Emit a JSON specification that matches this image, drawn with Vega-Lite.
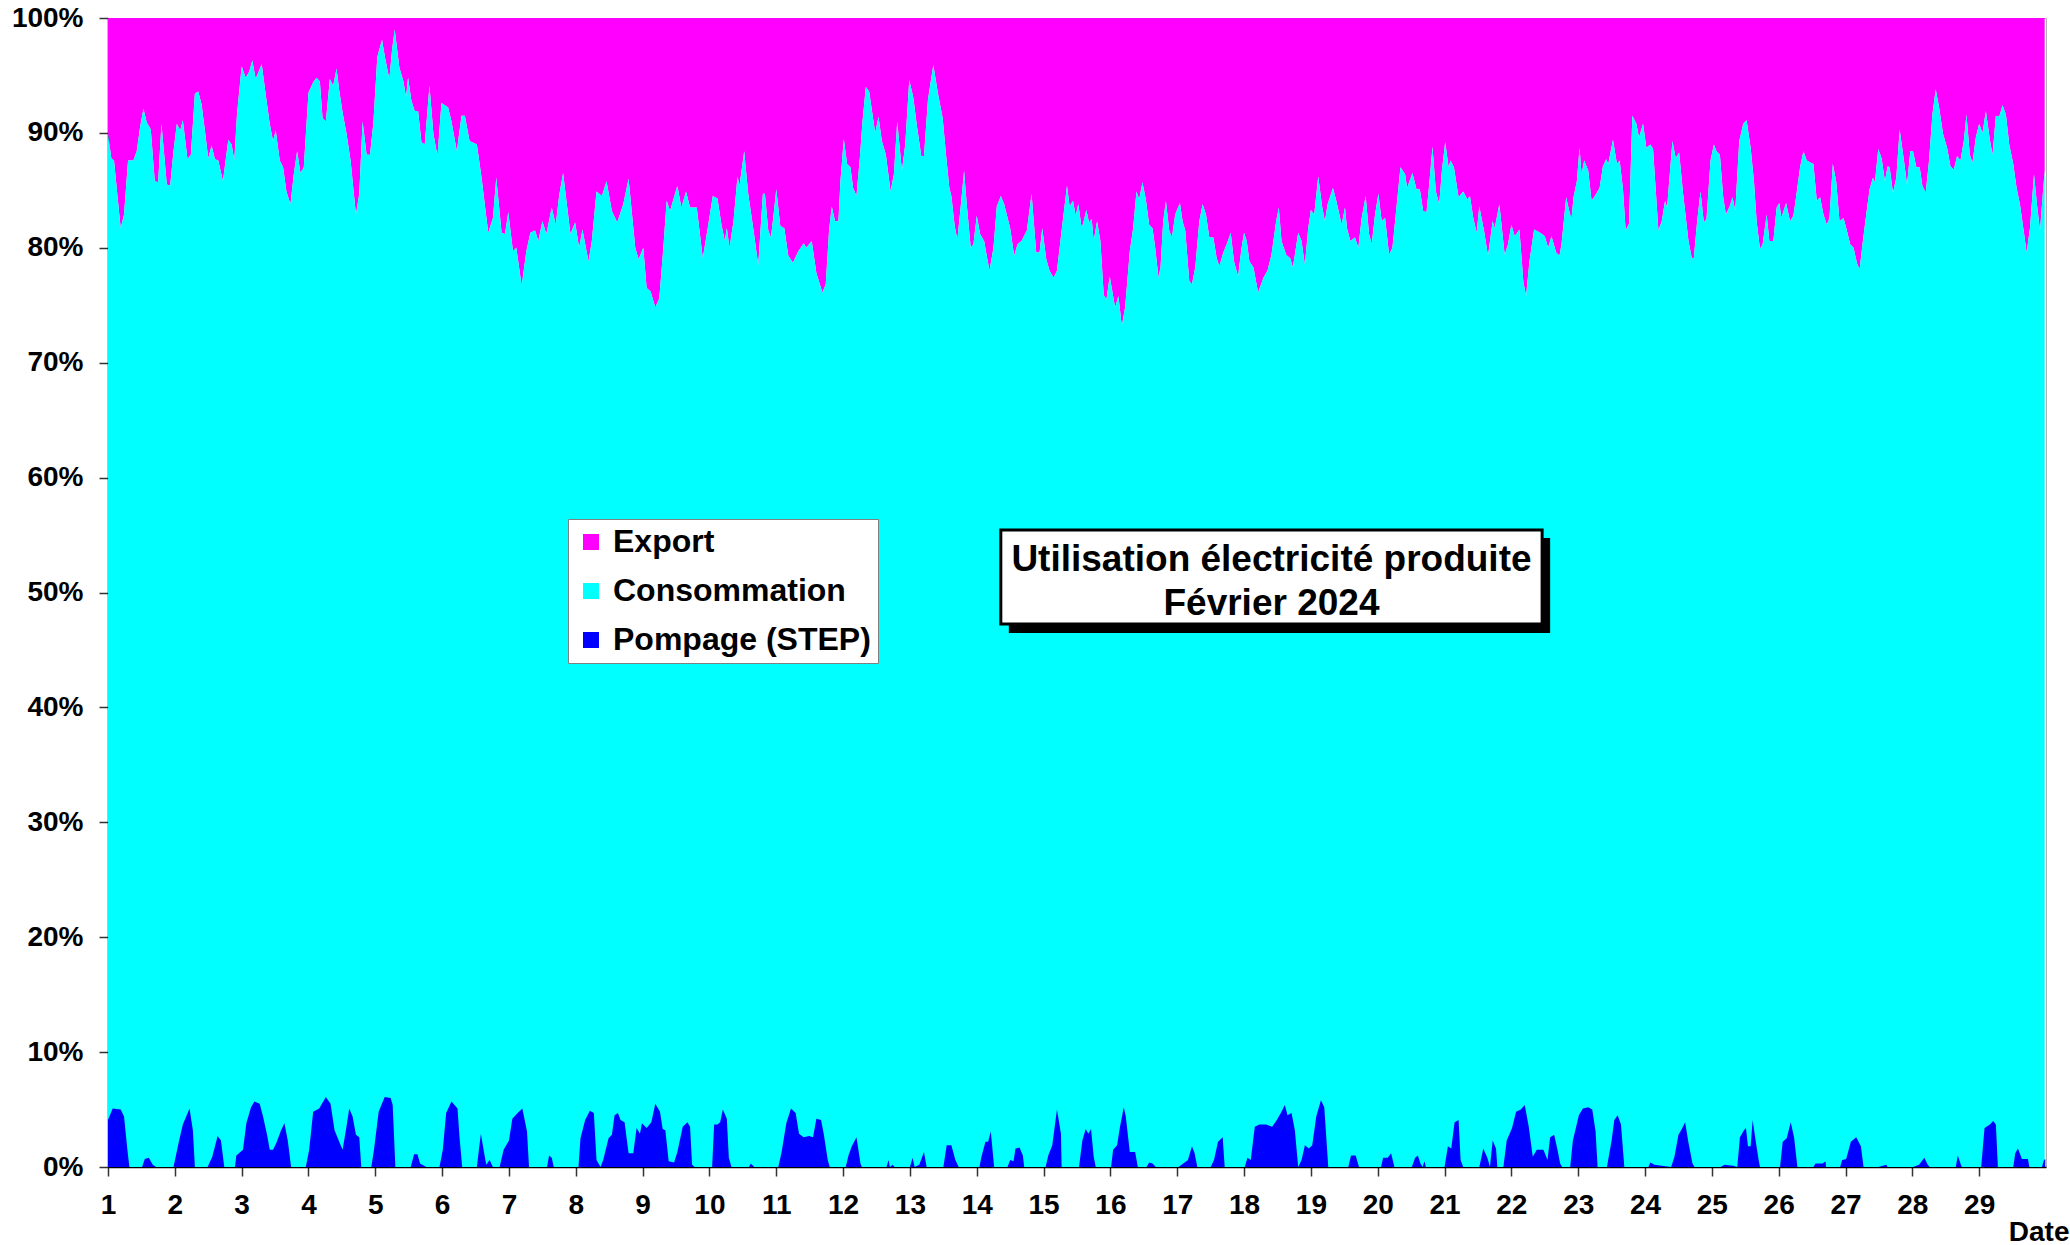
{
  "$schema": "https://vega.github.io/schema/vega-lite/v6.json",
  "width": 1938,
  "height": 1149,
  "autosize": {"type": "none"},
  "padding": {"left": 108, "top": 18, "right": 24, "bottom": 78},
  "background": "white",
  "config": {
    "view": {"stroke": "#b0b0b0", "strokeWidth": 1},
    "font": "Liberation Sans",
    "axis": {
      "labelFont": "Liberation Sans",
      "labelFontWeight": "bold",
      "labelFontSize": 28,
      "labelColor": "black",
      "domainColor": "black",
      "domainWidth": 1.5,
      "tickColor": "#333333",
      "tickSize": 9,
      "tickWidth": 1.5,
      "grid": false
    }
  },
  "datasets": {
    "cumul": [
      {"jour":1.00,"part":89.9},{"jour":1.05,"part":87.8},{"jour":1.09,"part":87.6},{"jour":1.13,"part":85.2},{"jour":1.19,"part":81.7},{"jour":1.24,"part":82.9},{"jour":1.30,"part":87.6},{"jour":1.38,"part":87.6},{"jour":1.43,"part":88.4},{"jour":1.48,"part":90.5},{"jour":1.53,"part":92.1},{"jour":1.58,"part":90.9},{"jour":1.64,"part":90.3},{"jour":1.70,"part":85.8},{"jour":1.75,"part":85.7},{"jour":1.80,"part":90.8},{"jour":1.88,"part":85.5},{"jour":1.93,"part":85.4},{"jour":1.98,"part":88.4},
      {"jour":2.03,"part":90.8},{"jour":2.08,"part":90.2},{"jour":2.12,"part":91.1},{"jour":2.19,"part":87.7},{"jour":2.24,"part":88.1},{"jour":2.30,"part":93.4},{"jour":2.35,"part":93.6},{"jour":2.40,"part":92.5},{"jour":2.45,"part":90.2},{"jour":2.50,"part":87.8},{"jour":2.55,"part":88.9},{"jour":2.60,"part":87.7},{"jour":2.65,"part":87.6},{"jour":2.72,"part":85.8},{"jour":2.80,"part":89.4},{"jour":2.85,"part":89.0},{"jour":2.89,"part":87.6},{"jour":2.93,"part":91.6},
      {"jour":3.00,"part":95.8},{"jour":3.06,"part":94.8},{"jour":3.11,"part":95.3},{"jour":3.16,"part":96.3},{"jour":3.21,"part":94.7},{"jour":3.30,"part":96.0},{"jour":3.37,"part":92.9},{"jour":3.42,"part":90.8},{"jour":3.47,"part":89.3},{"jour":3.51,"part":90.2},{"jour":3.57,"part":87.6},{"jour":3.62,"part":87.0},{"jour":3.67,"part":84.9},{"jour":3.73,"part":83.8},{"jour":3.78,"part":86.4},{"jour":3.83,"part":88.4},{"jour":3.88,"part":86.5},{"jour":3.93,"part":87.0},
      {"jour":4.00,"part":93.5},{"jour":4.07,"part":94.4},{"jour":4.12,"part":94.8},{"jour":4.17,"part":94.5},{"jour":4.21,"part":91.3},{"jour":4.26,"part":91.0},{"jour":4.32,"part":94.7},{"jour":4.37,"part":94.1},{"jour":4.42,"part":95.6},{"jour":4.46,"part":93.7},{"jour":4.51,"part":91.8},{"jour":4.57,"part":89.9},{"jour":4.63,"part":87.6},{"jour":4.71,"part":82.9},{"jour":4.76,"part":84.7},{"jour":4.81,"part":91.0},{"jour":4.87,"part":88.1},{"jour":4.92,"part":88.1},{"jour":4.97,"part":90.8},
      {"jour":5.03,"part":96.6},{"jour":5.10,"part":98.1},{"jour":5.15,"part":96.4},{"jour":5.21,"part":94.7},{"jour":5.25,"part":97.2},{"jour":5.29,"part":99.0},{"jour":5.36,"part":95.7},{"jour":5.42,"part":94.5},{"jour":5.46,"part":93.1},{"jour":5.49,"part":94.8},{"jour":5.54,"part":92.8},{"jour":5.59,"part":91.9},{"jour":5.64,"part":91.9},{"jour":5.69,"part":89.2},{"jour":5.74,"part":89.0},{"jour":5.81,"part":94.1},{"jour":5.87,"part":89.9},{"jour":5.93,"part":88.0},{"jour":5.99,"part":92.6},
      {"jour":6.09,"part":92.2},{"jour":6.14,"part":91.0},{"jour":6.22,"part":88.4},{"jour":6.29,"part":91.5},{"jour":6.34,"part":91.5},{"jour":6.41,"part":89.3},{"jour":6.52,"part":89.0},{"jour":6.59,"part":86.1},{"jour":6.69,"part":81.3},{"jour":6.76,"part":82.6},{"jour":6.81,"part":86.1},{"jour":6.89,"part":81.3},{"jour":6.94,"part":81.2},{"jour":6.99,"part":83.1},
      {"jour":7.06,"part":79.7},{"jour":7.11,"part":80.0},{"jour":7.19,"part":76.7},{"jour":7.26,"part":79.7},{"jour":7.32,"part":81.3},{"jour":7.39,"part":81.5},{"jour":7.44,"part":80.6},{"jour":7.50,"part":82.3},{"jour":7.56,"part":81.2},{"jour":7.64,"part":83.5},{"jour":7.70,"part":82.0},{"jour":7.75,"part":84.5},{"jour":7.81,"part":86.5},{"jour":7.86,"part":84.1},{"jour":7.92,"part":81.2},{"jour":7.99,"part":82.2},
      {"jour":8.05,"part":80.0},{"jour":8.10,"part":81.6},{"jour":8.19,"part":78.8},{"jour":8.24,"part":80.6},{"jour":8.31,"part":84.9},{"jour":8.39,"part":84.5},{"jour":8.46,"part":85.8},{"jour":8.54,"part":83.2},{"jour":8.62,"part":82.2},{"jour":8.71,"part":83.8},{"jour":8.79,"part":86.0},{"jour":8.89,"part":80.0},{"jour":8.94,"part":79.0},
      {"jour":9.01,"part":80.0},{"jour":9.06,"part":76.5},{"jour":9.12,"part":76.2},{"jour":9.19,"part":74.8},{"jour":9.25,"part":75.6},{"jour":9.31,"part":80.0},{"jour":9.36,"part":84.1},{"jour":9.41,"part":83.2},{"jour":9.52,"part":85.4},{"jour":9.58,"part":83.5},{"jour":9.65,"part":84.9},{"jour":9.71,"part":83.5},{"jour":9.81,"part":83.5},{"jour":9.90,"part":79.1},{"jour":9.96,"part":81.2},
      {"jour":10.05,"part":84.5},{"jour":10.12,"part":84.3},{"jour":10.18,"part":82.0},{"jour":10.23,"part":80.6},{"jour":10.26,"part":81.7},{"jour":10.30,"part":80.0},{"jour":10.36,"part":82.3},{"jour":10.42,"part":86.2},{"jour":10.45,"part":85.4},{"jour":10.52,"part":88.4},{"jour":10.58,"part":84.7},{"jour":10.66,"part":81.5},{"jour":10.73,"part":78.5},{"jour":10.80,"part":84.7},{"jour":10.83,"part":84.7},{"jour":10.88,"part":81.5},{"jour":10.92,"part":80.9},{"jour":10.96,"part":82.9},
      {"jour":11.00,"part":85.1},{"jour":11.06,"part":81.9},{"jour":11.12,"part":81.7},{"jour":11.18,"part":79.3},{"jour":11.25,"part":78.7},{"jour":11.33,"part":79.7},{"jour":11.41,"part":80.4},{"jour":11.45,"part":80.0},{"jour":11.53,"part":80.6},{"jour":11.60,"part":77.8},{"jour":11.69,"part":76.1},{"jour":11.74,"part":76.8},{"jour":11.79,"part":81.5},{"jour":11.83,"part":83.6},{"jour":11.88,"part":82.3},{"jour":11.93,"part":82.3},{"jour":11.96,"part":85.8},
      {"jour":12.01,"part":89.5},{"jour":12.06,"part":87.3},{"jour":12.11,"part":87.0},{"jour":12.15,"part":85.2},{"jour":12.20,"part":84.5},{"jour":12.25,"part":87.8},{"jour":12.29,"part":91.0},{"jour":12.34,"part":94.0},{"jour":12.39,"part":93.6},{"jour":12.44,"part":91.6},{"jour":12.48,"part":90.0},{"jour":12.53,"part":91.4},{"jour":12.58,"part":89.3},{"jour":12.64,"part":88.1},{"jour":12.71,"part":84.9},{"jour":12.76,"part":86.4},{"jour":12.81,"part":91.0},{"jour":12.88,"part":86.7},{"jour":12.93,"part":89.0},{"jour":12.99,"part":94.6},
      {"jour":13.05,"part":93.1},{"jour":13.10,"part":90.8},{"jour":13.17,"part":88.0},{"jour":13.21,"part":88.0},{"jour":13.27,"part":92.9},{"jour":13.35,"part":95.9},{"jour":13.42,"part":93.4},{"jour":13.49,"part":91.3},{"jour":13.54,"part":88.1},{"jour":13.59,"part":85.2},{"jour":13.62,"part":84.5},{"jour":13.67,"part":81.9},{"jour":13.71,"part":80.7},{"jour":13.77,"part":84.2},{"jour":13.81,"part":86.7},{"jour":13.85,"part":83.8},{"jour":13.91,"part":80.0},{"jour":13.95,"part":80.3},
      {"jour":14.00,"part":82.8},{"jour":14.05,"part":81.2},{"jour":14.11,"part":80.6},{"jour":14.19,"part":78.0},{"jour":14.25,"part":80.0},{"jour":14.30,"part":83.6},{"jour":14.36,"part":84.5},{"jour":14.41,"part":83.8},{"jour":14.50,"part":81.7},{"jour":14.56,"part":79.3},{"jour":14.61,"part":80.3},{"jour":14.67,"part":80.6},{"jour":14.75,"part":81.5},{"jour":14.82,"part":84.7},{"jour":14.89,"part":79.6},{"jour":14.94,"part":79.6},{"jour":14.98,"part":81.7},
      {"jour":15.04,"part":79.0},{"jour":15.09,"part":78.0},{"jour":15.15,"part":77.4},{"jour":15.20,"part":78.0},{"jour":15.27,"part":81.5},{"jour":15.35,"part":85.4},{"jour":15.39,"part":83.6},{"jour":15.44,"part":84.1},{"jour":15.48,"part":82.8},{"jour":15.52,"part":83.8},{"jour":15.57,"part":81.7},{"jour":15.60,"part":82.3},{"jour":15.64,"part":83.3},{"jour":15.68,"part":82.2},{"jour":15.72,"part":82.5},{"jour":15.75,"part":80.6},{"jour":15.80,"part":82.3},{"jour":15.85,"part":80.6},{"jour":15.90,"part":75.9},{"jour":15.94,"part":75.5},{"jour":15.99,"part":77.5},
      {"jour":16.07,"part":74.8},{"jour":16.12,"part":75.8},{"jour":16.17,"part":73.2},{"jour":16.22,"part":74.8},{"jour":16.29,"part":79.7},{"jour":16.34,"part":81.7},{"jour":16.39,"part":84.9},{"jour":16.43,"part":84.2},{"jour":16.48,"part":85.7},{"jour":16.53,"part":84.2},{"jour":16.58,"part":82.0},{"jour":16.63,"part":81.7},{"jour":16.67,"part":80.0},{"jour":16.72,"part":77.4},{"jour":16.75,"part":78.3},{"jour":16.79,"part":82.3},{"jour":16.83,"part":84.1},{"jour":16.88,"part":81.5},{"jour":16.92,"part":80.9},{"jour":16.97,"part":82.9},
      {"jour":17.04,"part":83.9},{"jour":17.08,"part":82.3},{"jour":17.12,"part":81.5},{"jour":17.18,"part":77.1},{"jour":17.22,"part":76.8},{"jour":17.27,"part":78.3},{"jour":17.33,"part":82.3},{"jour":17.38,"part":83.8},{"jour":17.43,"part":82.9},{"jour":17.48,"part":80.9},{"jour":17.54,"part":80.9},{"jour":17.59,"part":79.1},{"jour":17.63,"part":78.4},{"jour":17.69,"part":79.6},{"jour":17.74,"part":80.3},{"jour":17.80,"part":81.3},{"jour":17.85,"part":78.8},{"jour":17.91,"part":77.5},{"jour":17.96,"part":79.9},
      {"jour":18.00,"part":81.3},{"jour":18.04,"part":80.6},{"jour":18.08,"part":78.8},{"jour":18.14,"part":78.3},{"jour":18.21,"part":76.1},{"jour":18.29,"part":77.4},{"jour":18.35,"part":78.0},{"jour":18.41,"part":79.4},{"jour":18.48,"part":82.3},{"jour":18.52,"part":83.5},{"jour":18.56,"part":80.6},{"jour":18.63,"part":79.4},{"jour":18.69,"part":79.1},{"jour":18.73,"part":78.3},{"jour":18.76,"part":79.4},{"jour":18.81,"part":81.3},{"jour":18.86,"part":80.6},{"jour":18.91,"part":78.5},{"jour":18.96,"part":81.7},
      {"jour":19.00,"part":83.3},{"jour":19.05,"part":82.9},{"jour":19.11,"part":86.2},{"jour":19.17,"part":83.5},{"jour":19.21,"part":82.3},{"jour":19.25,"part":83.8},{"jour":19.33,"part":85.2},{"jour":19.38,"part":84.1},{"jour":19.46,"part":82.0},{"jour":19.51,"part":83.5},{"jour":19.54,"part":81.7},{"jour":19.59,"part":80.6},{"jour":19.66,"part":80.9},{"jour":19.71,"part":80.0},{"jour":19.76,"part":82.6},{"jour":19.82,"part":84.5},{"jour":19.87,"part":81.2},{"jour":19.91,"part":80.3},{"jour":19.96,"part":82.9},
      {"jour":20.01,"part":84.7},{"jour":20.06,"part":82.3},{"jour":20.11,"part":82.6},{"jour":20.17,"part":79.4},{"jour":20.22,"part":80.0},{"jour":20.27,"part":82.9},{"jour":20.34,"part":87.0},{"jour":20.41,"part":86.4},{"jour":20.44,"part":85.2},{"jour":20.52,"part":86.5},{"jour":20.58,"part":85.1},{"jour":20.63,"part":85.1},{"jour":20.68,"part":83.2},{"jour":20.73,"part":83.1},{"jour":20.77,"part":85.5},{"jour":20.82,"part":88.8},{"jour":20.87,"part":84.9},{"jour":20.92,"part":83.8},{"jour":20.96,"part":86.7},
      {"jour":21.01,"part":89.2},{"jour":21.06,"part":87.0},{"jour":21.09,"part":87.6},{"jour":21.14,"part":87.0},{"jour":21.21,"part":84.4},{"jour":21.28,"part":84.9},{"jour":21.34,"part":84.2},{"jour":21.38,"part":84.5},{"jour":21.43,"part":82.6},{"jour":21.48,"part":81.3},{"jour":21.52,"part":83.6},{"jour":21.59,"part":81.5},{"jour":21.65,"part":79.3},{"jour":21.72,"part":82.3},{"jour":21.75,"part":81.7},{"jour":21.82,"part":83.8},{"jour":21.90,"part":79.4},{"jour":21.95,"part":80.3},
      {"jour":22.00,"part":82.0},{"jour":22.05,"part":81.0},{"jour":22.12,"part":81.6},{"jour":22.18,"part":77.0},{"jour":22.22,"part":75.8},{"jour":22.27,"part":78.8},{"jour":22.34,"part":81.6},{"jour":22.43,"part":81.3},{"jour":22.50,"part":81.0},{"jour":22.55,"part":80.0},{"jour":22.60,"part":81.0},{"jour":22.67,"part":79.6},{"jour":22.72,"part":79.3},{"jour":22.75,"part":80.3},{"jour":22.82,"part":84.4},{"jour":22.87,"part":83.1},{"jour":22.90,"part":82.5},{"jour":22.93,"part":84.4},{"jour":22.98,"part":85.8},
      {"jour":23.02,"part":88.7},{"jour":23.05,"part":86.4},{"jour":23.09,"part":87.6},{"jour":23.15,"part":86.7},{"jour":23.20,"part":84.1},{"jour":23.25,"part":84.5},{"jour":23.32,"part":85.2},{"jour":23.37,"part":87.1},{"jour":23.42,"part":87.7},{"jour":23.45,"part":87.3},{"jour":23.52,"part":89.4},{"jour":23.58,"part":87.3},{"jour":23.62,"part":87.6},{"jour":23.67,"part":85.1},{"jour":23.71,"part":81.5},{"jour":23.76,"part":82.1},{"jour":23.81,"part":91.5},{"jour":23.87,"part":90.8},{"jour":23.91,"part":89.6},{"jour":23.97,"part":90.8},
      {"jour":24.02,"part":88.7},{"jour":24.08,"part":89.0},{"jour":24.12,"part":88.6},{"jour":24.20,"part":81.5},{"jour":24.25,"part":82.3},{"jour":24.30,"part":84.1},{"jour":24.33,"part":83.5},{"jour":24.41,"part":89.3},{"jour":24.46,"part":87.8},{"jour":24.51,"part":88.3},{"jour":24.57,"part":84.7},{"jour":24.65,"part":80.6},{"jour":24.70,"part":79.1},{"jour":24.73,"part":79.1},{"jour":24.78,"part":82.3},{"jour":24.83,"part":84.9},{"jour":24.88,"part":82.2},{"jour":24.92,"part":82.5},{"jour":24.98,"part":87.6},
      {"jour":25.03,"part":89.0},{"jour":25.07,"part":88.4},{"jour":25.12,"part":88.1},{"jour":25.17,"part":84.4},{"jour":25.21,"part":82.9},{"jour":25.26,"part":83.5},{"jour":25.31,"part":84.4},{"jour":25.35,"part":83.2},{"jour":25.41,"part":89.3},{"jour":25.47,"part":90.8},{"jour":25.52,"part":91.1},{"jour":25.58,"part":88.7},{"jour":25.63,"part":85.8},{"jour":25.67,"part":82.3},{"jour":25.72,"part":79.9},{"jour":25.76,"part":80.3},{"jour":25.82,"part":82.9},{"jour":25.86,"part":80.6},{"jour":25.92,"part":80.6},{"jour":25.97,"part":83.5},
      {"jour":26.01,"part":83.9},{"jour":26.04,"part":82.6},{"jour":26.11,"part":83.9},{"jour":26.17,"part":82.3},{"jour":26.22,"part":82.8},{"jour":26.26,"part":84.4},{"jour":26.32,"part":87.0},{"jour":26.37,"part":88.4},{"jour":26.42,"part":87.6},{"jour":26.48,"part":87.4},{"jour":26.52,"part":87.3},{"jour":26.57,"part":84.1},{"jour":26.62,"part":84.4},{"jour":26.67,"part":82.9},{"jour":26.72,"part":82.0},{"jour":26.76,"part":82.6},{"jour":26.81,"part":87.3},{"jour":26.86,"part":85.8},{"jour":26.91,"part":82.3},{"jour":26.97,"part":82.6},
      {"jour":27.02,"part":81.5},{"jour":27.07,"part":80.3},{"jour":27.12,"part":80.0},{"jour":27.17,"part":78.7},{"jour":27.21,"part":78.1},{"jour":27.26,"part":80.6},{"jour":27.31,"part":82.9},{"jour":27.36,"part":85.1},{"jour":27.41,"part":86.1},{"jour":27.44,"part":85.7},{"jour":27.49,"part":88.6},{"jour":27.54,"part":87.8},{"jour":27.59,"part":85.8},{"jour":27.63,"part":87.1},{"jour":27.66,"part":87.0},{"jour":27.71,"part":84.8},{"jour":27.76,"part":86.1},{"jour":27.81,"part":90.3},{"jour":27.87,"part":87.8},{"jour":27.92,"part":85.5},{"jour":27.97,"part":88.4},
      {"jour":28.01,"part":88.4},{"jour":28.06,"part":87.0},{"jour":28.11,"part":87.0},{"jour":28.15,"part":85.4},{"jour":28.20,"part":84.8},{"jour":28.25,"part":87.6},{"jour":28.30,"part":91.6},{"jour":28.35,"part":93.8},{"jour":28.40,"part":92.2},{"jour":28.46,"part":89.9},{"jour":28.52,"part":88.7},{"jour":28.57,"part":87.1},{"jour":28.62,"part":86.8},{"jour":28.67,"part":88.0},{"jour":28.72,"part":87.6},{"jour":28.77,"part":89.3},{"jour":28.81,"part":91.6},{"jour":28.86,"part":88.1},{"jour":28.90,"part":87.4},{"jour":28.95,"part":89.6},
      {"jour":29.00,"part":90.8},{"jour":29.05,"part":90.0},{"jour":29.10,"part":91.9},{"jour":29.16,"part":89.4},{"jour":29.20,"part":88.1},{"jour":29.25,"part":91.5},{"jour":29.30,"part":91.4},{"jour":29.35,"part":92.4},{"jour":29.40,"part":91.6},{"jour":29.45,"part":89.0},{"jour":29.51,"part":87.3},{"jour":29.56,"part":85.2},{"jour":29.61,"part":83.8},{"jour":29.67,"part":81.3},{"jour":29.71,"part":79.6},{"jour":29.76,"part":81.7},{"jour":29.82,"part":86.4},{"jour":29.87,"part":83.5},{"jour":29.91,"part":81.5},{"jour":29.95,"part":84.5},{"jour":29.98,"part":86.7}
    ],
    "pompage": [
      {"jour":1.00,"part":4.1},{"jour":1.07,"part":5.1},{"jour":1.19,"part":5.0},{"jour":1.24,"part":4.4},{"jour":1.29,"part":1.5},{"jour":1.32,"part":0},{"jour":1.51,"part":0},{"jour":1.55,"part":0.7},{"jour":1.61,"part":0.8},{"jour":1.67,"part":0.2},{"jour":1.72,"part":0},
      {"jour":1.98,"part":0},{"jour":2.06,"part":2.2},{"jour":2.12,"part":3.7},{"jour":2.22,"part":5.1},{"jour":2.27,"part":3.2},{"jour":2.30,"part":0},{"jour":2.49,"part":0},{"jour":2.56,"part":0.9},{"jour":2.64,"part":2.7},{"jour":2.69,"part":2.3},{"jour":2.74,"part":0},
      {"jour":2.90,"part":0},{"jour":2.92,"part":1.0},{"jour":3.02,"part":1.5},{"jour":3.07,"part":3.8},{"jour":3.14,"part":5.2},{"jour":3.19,"part":5.7},{"jour":3.27,"part":5.5},{"jour":3.32,"part":4.4},{"jour":3.38,"part":2.8},{"jour":3.42,"part":1.5},{"jour":3.47,"part":1.5},{"jour":3.52,"part":2.1},{"jour":3.59,"part":3.2},{"jour":3.64,"part":3.8},{"jour":3.69,"part":2.3},{"jour":3.74,"part":0},
      {"jour":3.96,"part":0},{"jour":4.01,"part":1.5},{"jour":4.07,"part":4.8},{"jour":4.16,"part":5.1},{"jour":4.26,"part":6.1},{"jour":4.33,"part":5.5},{"jour":4.39,"part":3.2},{"jour":4.46,"part":2.2},{"jour":4.51,"part":1.5},{"jour":4.56,"part":3.2},{"jour":4.61,"part":5.1},{"jour":4.66,"part":4.4},{"jour":4.71,"part":2.8},{"jour":4.76,"part":2.6},{"jour":4.79,"part":0},
      {"jour":4.94,"part":0},{"jour":4.98,"part":1.5},{"jour":5.05,"part":4.8},{"jour":5.14,"part":6.1},{"jour":5.23,"part":6.0},{"jour":5.26,"part":5.4},{"jour":5.30,"part":0},{"jour":5.53,"part":0},{"jour":5.58,"part":1.1},{"jour":5.63,"part":1.1},{"jour":5.67,"part":0.3},{"jour":5.73,"part":0.1},{"jour":5.76,"part":0},
      {"jour":5.96,"part":0},{"jour":6.01,"part":1.5},{"jour":6.06,"part":4.7},{"jour":6.14,"part":5.7},{"jour":6.23,"part":5.1},{"jour":6.26,"part":2.6},{"jour":6.30,"part":0},{"jour":6.52,"part":0},{"jour":6.55,"part":1.5},{"jour":6.58,"part":2.9},{"jour":6.62,"part":1.5},{"jour":6.66,"part":0.2},{"jour":6.71,"part":0.6},{"jour":6.76,"part":0},
      {"jour":6.86,"part":0},{"jour":6.92,"part":1.5},{"jour":7.00,"part":2.3},{"jour":7.05,"part":4.2},{"jour":7.13,"part":4.7},{"jour":7.20,"part":5.1},{"jour":7.27,"part":3.1},{"jour":7.30,"part":0},{"jour":7.57,"part":0},{"jour":7.60,"part":1.0},{"jour":7.64,"part":0.8},{"jour":7.67,"part":0},
      {"jour":8.04,"part":0},{"jour":8.07,"part":2.5},{"jour":8.14,"part":4.1},{"jour":8.21,"part":4.9},{"jour":8.27,"part":4.7},{"jour":8.31,"part":0.6},{"jour":8.37,"part":0},{"jour":8.41,"part":0.6},{"jour":8.49,"part":2.5},{"jour":8.54,"part":2.8},{"jour":8.58,"part":4.5},{"jour":8.63,"part":4.7},{"jour":8.67,"part":4.1},{"jour":8.73,"part":3.9},{"jour":8.79,"part":1.2},{"jour":8.86,"part":1.2},{"jour":8.91,"part":3.4},{"jour":8.96,"part":2.9},{"jour":8.99,"part":3.8},
      {"jour":9.06,"part":3.4},{"jour":9.13,"part":3.9},{"jour":9.19,"part":5.5},{"jour":9.26,"part":4.8},{"jour":9.30,"part":3.3},{"jour":9.34,"part":3.2},{"jour":9.39,"part":0.5},{"jour":9.47,"part":0.4},{"jour":9.52,"part":1.3},{"jour":9.60,"part":3.5},{"jour":9.67,"part":3.9},{"jour":9.71,"part":3.5},{"jour":9.74,"part":0.2},{"jour":9.78,"part":0},
      {"jour":10.04,"part":0},{"jour":10.07,"part":3.7},{"jour":10.12,"part":3.7},{"jour":10.16,"part":3.9},{"jour":10.20,"part":5.0},{"jour":10.26,"part":4.2},{"jour":10.29,"part":0.8},{"jour":10.33,"part":0},{"jour":10.59,"part":0},{"jour":10.62,"part":0.3},{"jour":10.67,"part":0},
      {"jour":11.03,"part":0},{"jour":11.08,"part":1.3},{"jour":11.15,"part":3.8},{"jour":11.22,"part":5.1},{"jour":11.29,"part":4.7},{"jour":11.34,"part":2.9},{"jour":11.41,"part":2.6},{"jour":11.49,"part":2.7},{"jour":11.55,"part":2.6},{"jour":11.60,"part":4.2},{"jour":11.67,"part":4.1},{"jour":11.71,"part":2.9},{"jour":11.77,"part":0.6},{"jour":11.80,"part":0},
      {"jour":12.04,"part":0},{"jour":12.08,"part":1.0},{"jour":12.13,"part":1.8},{"jour":12.20,"part":2.6},{"jour":12.26,"part":0.3},{"jour":12.28,"part":0},{"jour":12.65,"part":0},{"jour":12.68,"part":0.6},{"jour":12.70,"part":0},{"jour":12.74,"part":0.2},{"jour":12.77,"part":0},
      {"jour":13.00,"part":0},{"jour":13.04,"part":0.8},{"jour":13.07,"part":0},{"jour":13.14,"part":0.2},{"jour":13.21,"part":1.3},{"jour":13.25,"part":0},{"jour":13.50,"part":0},{"jour":13.55,"part":1.9},{"jour":13.62,"part":1.9},{"jour":13.68,"part":0.6},{"jour":13.73,"part":0},
      {"jour":14.04,"part":0},{"jour":14.07,"part":0.9},{"jour":14.13,"part":2.2},{"jour":14.17,"part":2.2},{"jour":14.21,"part":3.1},{"jour":14.26,"part":0},{"jour":14.46,"part":0},{"jour":14.50,"part":0.6},{"jour":14.55,"part":0.5},{"jour":14.58,"part":1.6},{"jour":14.64,"part":1.7},{"jour":14.69,"part":1.0},{"jour":14.71,"part":0},
      {"jour":15.03,"part":0},{"jour":15.07,"part":1.0},{"jour":15.13,"part":1.9},{"jour":15.20,"part":5.0},{"jour":15.26,"part":2.9},{"jour":15.27,"part":0},{"jour":15.53,"part":0},{"jour":15.58,"part":2.3},{"jour":15.63,"part":3.3},{"jour":15.67,"part":2.9},{"jour":15.71,"part":3.3},{"jour":15.75,"part":0.9},{"jour":15.78,"part":0},
      {"jour":16.01,"part":0},{"jour":16.04,"part":1.5},{"jour":16.10,"part":1.9},{"jour":16.14,"part":3.4},{"jour":16.20,"part":5.2},{"jour":16.23,"part":4.4},{"jour":16.29,"part":1.3},{"jour":16.37,"part":1.3},{"jour":16.41,"part":0},{"jour":16.54,"part":0},{"jour":16.58,"part":0.4},{"jour":16.63,"part":0.3},{"jour":16.68,"part":0},
      {"jour":17.02,"part":0},{"jour":17.09,"part":0.3},{"jour":17.16,"part":0.6},{"jour":17.22,"part":1.8},{"jour":17.26,"part":1.2},{"jour":17.30,"part":0},{"jour":17.50,"part":0},{"jour":17.55,"part":0.6},{"jour":17.61,"part":2.2},{"jour":17.68,"part":2.6},{"jour":17.71,"part":0},
      {"jour":18.01,"part":0},{"jour":18.05,"part":0.8},{"jour":18.10,"part":0.6},{"jour":18.16,"part":3.5},{"jour":18.23,"part":3.7},{"jour":18.33,"part":3.7},{"jour":18.42,"part":3.5},{"jour":18.49,"part":4.1},{"jour":18.55,"part":4.7},{"jour":18.61,"part":5.4},{"jour":18.65,"part":4.5},{"jour":18.71,"part":4.7},{"jour":18.76,"part":3.2},{"jour":18.81,"part":0},{"jour":18.86,"part":0.6},{"jour":18.91,"part":1.9},{"jour":18.97,"part":1.6},
      {"jour":19.02,"part":1.9},{"jour":19.08,"part":4.4},{"jour":19.15,"part":5.8},{"jour":19.20,"part":5.2},{"jour":19.26,"part":0},{"jour":19.56,"part":0},{"jour":19.60,"part":1.0},{"jour":19.67,"part":1.0},{"jour":19.72,"part":0},
      {"jour":20.05,"part":0},{"jour":20.08,"part":0.8},{"jour":20.15,"part":0.8},{"jour":20.20,"part":1.2},{"jour":20.25,"part":0},{"jour":20.51,"part":0},{"jour":20.56,"part":0.8},{"jour":20.60,"part":1.0},{"jour":20.64,"part":0.3},{"jour":20.67,"part":0},{"jour":20.70,"part":0.5},{"jour":20.72,"part":0},
      {"jour":21.00,"part":0},{"jour":21.05,"part":1.8},{"jour":21.10,"part":1.6},{"jour":21.15,"part":3.9},{"jour":21.21,"part":4.1},{"jour":21.24,"part":0.6},{"jour":21.28,"part":0},{"jour":21.52,"part":0},{"jour":21.58,"part":1.6},{"jour":21.64,"part":0.8},{"jour":21.68,"part":0},{"jour":21.72,"part":2.3},{"jour":21.77,"part":1.6},{"jour":21.79,"part":0},
      {"jour":21.88,"part":0},{"jour":21.93,"part":2.3},{"jour":22.01,"part":3.4},{"jour":22.07,"part":4.8},{"jour":22.14,"part":5.0},{"jour":22.20,"part":5.4},{"jour":22.26,"part":3.5},{"jour":22.32,"part":0.9},{"jour":22.38,"part":1.5},{"jour":22.48,"part":1.5},{"jour":22.54,"part":0.6},{"jour":22.58,"part":2.6},{"jour":22.64,"part":2.8},{"jour":22.69,"part":1.5},{"jour":22.73,"part":0.3},{"jour":22.76,"part":0},
      {"jour":22.88,"part":0},{"jour":22.92,"part":2.3},{"jour":23.01,"part":4.5},{"jour":23.07,"part":5.1},{"jour":23.15,"part":5.2},{"jour":23.21,"part":5.0},{"jour":23.26,"part":3.1},{"jour":23.29,"part":0},{"jour":23.43,"part":0},{"jour":23.50,"part":2.3},{"jour":23.54,"part":4.1},{"jour":23.59,"part":4.5},{"jour":23.64,"part":3.7},{"jour":23.69,"part":0},
      {"jour":24.05,"part":0},{"jour":24.08,"part":0.4},{"jour":24.14,"part":0.2},{"jour":24.25,"part":0.1},{"jour":24.39,"part":0},{"jour":24.44,"part":0.9},{"jour":24.50,"part":2.8},{"jour":24.55,"part":3.3},{"jour":24.60,"part":3.9},{"jour":24.65,"part":2.1},{"jour":24.71,"part":0.3},{"jour":24.74,"part":0},
      {"jour":25.13,"part":0},{"jour":25.19,"part":0.2},{"jour":25.32,"part":0.1},{"jour":25.38,"part":0},{"jour":25.42,"part":2.6},{"jour":25.48,"part":3.2},{"jour":25.51,"part":3.4},{"jour":25.54,"part":1.8},{"jour":25.58,"part":1.8},{"jour":25.61,"part":4.1},{"jour":25.66,"part":2.1},{"jour":25.70,"part":0.6},{"jour":25.72,"part":0},
      {"jour":26.02,"part":0},{"jour":26.06,"part":2.2},{"jour":26.12,"part":2.5},{"jour":26.18,"part":3.9},{"jour":26.23,"part":2.6},{"jour":26.28,"part":0},{"jour":26.52,"part":0},{"jour":26.55,"part":0.3},{"jour":26.66,"part":0.3},{"jour":26.70,"part":0.5},{"jour":26.71,"part":0},
      {"jour":26.92,"part":0},{"jour":26.95,"part":0.6},{"jour":27.01,"part":0.7},{"jour":27.08,"part":2.2},{"jour":27.16,"part":2.6},{"jour":27.23,"part":1.8},{"jour":27.27,"part":0},{"jour":27.49,"part":0},{"jour":27.61,"part":0.2},{"jour":27.63,"part":0},
      {"jour":28.01,"part":0},{"jour":28.10,"part":0.2},{"jour":28.18,"part":0.8},{"jour":28.23,"part":0.2},{"jour":28.26,"part":0},{"jour":28.65,"part":0},{"jour":28.68,"part":1.0},{"jour":28.72,"part":0.3},{"jour":28.74,"part":0},
      {"jour":29.03,"part":0},{"jour":29.08,"part":3.4},{"jour":29.16,"part":3.7},{"jour":29.21,"part":4.0},{"jour":29.25,"part":3.7},{"jour":29.28,"part":0},{"jour":29.51,"part":0},{"jour":29.54,"part":1.2},{"jour":29.58,"part":1.6},{"jour":29.64,"part":0.7},{"jour":29.73,"part":0.7},{"jour":29.75,"part":0},{"jour":29.94,"part":0},{"jour":29.97,"part":0.6},{"jour":29.99,"part":0.7}
    ]
  },
  "layer": [
    {
      "encoding": {
        "x": {
          "field": "jour",
          "type": "quantitative",
          "scale": {"domain": [1, 30], "nice": false, "zero": false},
          "axis": {
            "values": [1,2,3,4,5,6,7,8,9,10,11,12,13,14,15,16,17,18,19,20,21,22,23,24,25,26,27,28,29],
            "format": "d",
            "labelFlush": false,
            "labelPadding": 15,
            "title": "Date",
            "titleFont": "Liberation Sans",
            "titleFontSize": 28,
            "titleFontWeight": "bold",
            "titleColor": "black",
            "titleAnchor": "end",
            "titleAlign": "right",
            "titleBaseline": "alphabetic",
            "titleX": 1961,
            "titleY": 73
          }
        },
        "y": {
          "field": "part",
          "type": "quantitative",
          "scale": {"domain": [0, 100], "nice": false},
          "axis": {
            "values": [0,10,20,30,40,50,60,70,80,90,100],
            "labelExpr": "datum.value + '%'",
            "labelPadding": 16,
            "title": null
          }
        }
      },
      "layer": [
        {
          "data": {"name": "cumul"},
          "mark": {"type": "area", "interpolate": "linear", "opacity": 1},
          "encoding": {
            "y2": {"datum": 100},
            "color": {
              "datum": "Export",
              "type": "nominal",
              "scale": {
                "domain": ["Export", "Consommation", "Pompage (STEP)"],
                "range": ["#ff00ff", "#00ffff", "#0000ff"]
              },
              "legend": {
                "title": null,
                "orient": "none",
                "legendX": 460,
                "legendY": 501,
                "direction": "vertical",
                "fillColor": "white",
                "strokeColor": "#808080",
                "padding": 7,
                "symbolType": "square",
                "symbolSize": 256,
                "symbolStrokeWidth": 0,
                "symbolOpacity": 1,
                "labelFont": "Liberation Sans",
                "labelFontWeight": "bold",
                "labelFontSize": 32,
                "labelColor": "black",
                "labelOffset": 6,
                "labelLimit": 400,
                "rowPadding": 17
              }
            }
          }
        },
        {
          "data": {"name": "cumul"},
          "mark": {"type": "area", "interpolate": "linear", "opacity": 1},
          "encoding": {"color": {"datum": "Consommation", "type": "nominal"}}
        },
        {
          "data": {"name": "pompage"},
          "mark": {"type": "area", "interpolate": "linear", "opacity": 1},
          "encoding": {"color": {"datum": "Pompage (STEP)", "type": "nominal"}}
        }
      ]
    },
    {
      "data": {"values": [{}]},
      "mark": {"type": "rect", "fill": "black"},
      "encoding": {
        "x": {"datum": 14.48, "type": "quantitative"},
        "x2": {"datum": 22.58},
        "y": {"datum": 54.74, "type": "quantitative"},
        "y2": {"datum": 46.47}
      }
    },
    {
      "data": {"values": [{}]},
      "mark": {"type": "rect", "fill": "white", "stroke": "black", "strokeWidth": 3},
      "encoding": {
        "x": {"datum": 14.36, "type": "quantitative"},
        "x2": {"datum": 22.46},
        "y": {"datum": 55.44, "type": "quantitative"},
        "y2": {"datum": 47.26}
      }
    },
    {
      "data": {"values": [{}]},
      "mark": {"type": "text", "font": "Liberation Sans", "fontWeight": "bold", "fontSize": 37, "align": "center", "baseline": "middle", "color": "black"},
      "encoding": {
        "x": {"datum": 18.41, "type": "quantitative"},
        "y": {"datum": 52.85, "type": "quantitative"},
        "text": {"value": "Utilisation électricité produite"}
      }
    },
    {
      "data": {"values": [{}]},
      "mark": {"type": "text", "font": "Liberation Sans", "fontWeight": "bold", "fontSize": 37, "align": "center", "baseline": "middle", "color": "black"},
      "encoding": {
        "x": {"datum": 18.41, "type": "quantitative"},
        "y": {"datum": 49.0, "type": "quantitative"},
        "text": {"value": "Février 2024"}
      }
    }
  ]
}
